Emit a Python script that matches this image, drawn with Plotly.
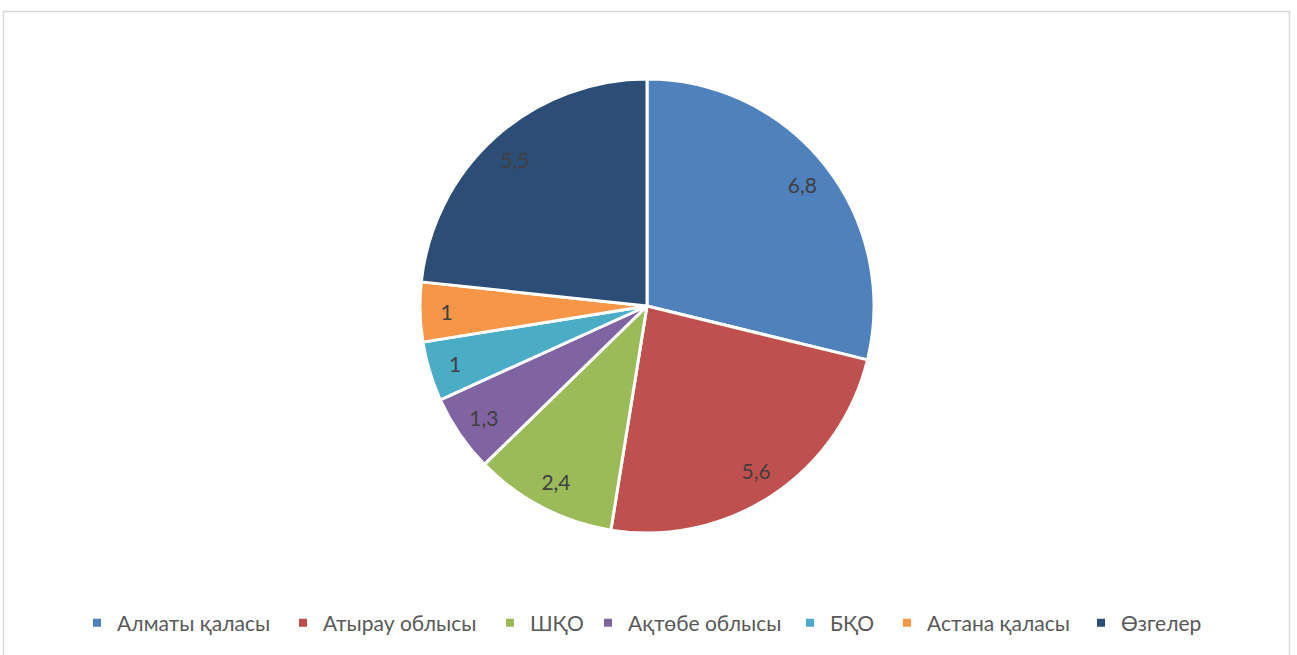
import plotly.graph_objects as go

categories = ["Алматы қаласы", "Атырау облысы", "ШҚО", "Ақтөбе облысы", "БҚО", "Астана қаласы", "Өзгелер"]
values = [6.8, 5.6, 2.4, 1.3, 1, 1, 5.5]
colors = ["#4F81BD", "#C0504D", "#9BBB59", "#8064A2", "#4BACC6", "#F79646", "#2C4D75"]
legend_text_x = [117, 323, 530, 628, 830, 927, 1121]  # pixel x where each legend label starts

W, H = 1297, 655
cx, cy, R = 647, 306, 227
FONT = "Lato, 'Noto Sans', sans-serif"
domain = dict(x=[(cx - R) / W, (cx + R) / W], y=[1 - (cy + R) / H, 1 - (cy - R) / H])

fig = go.Figure()
# main pie (slices)
fig.add_trace(go.Pie(
    labels=categories, values=values, sort=False, direction="clockwise", rotation=0,
    marker=dict(colors=colors, line=dict(color="white", width=3)),
    textinfo="none", domain=domain, showlegend=False, hoverinfo="label+value",
))
# transparent ring overlay to place data labels near the rim
fig.add_trace(go.Pie(
    labels=categories, values=values, sort=False, direction="clockwise", rotation=0,
    hole=0.74,
    marker=dict(colors=["rgba(0,0,0,0)"] * len(values), line=dict(width=0)),
    textinfo="value", textposition="inside", insidetextorientation="horizontal",
    textfont=dict(size=21, color="#404040", family=FONT),
    domain=domain, showlegend=False, hoverinfo="skip",
))

legend_layout = {}
for i, (name, col, tx) in enumerate(zip(categories, colors, legend_text_x)):
    key = "legend" if i == 0 else f"legend{i + 1}"
    fig.add_trace(go.Scatter(
        x=[None], y=[None], mode="markers", name=name,
        marker=dict(symbol="square", size=8, color=col),
        legend=key, showlegend=True, hoverinfo="skip",
    ))
    legend_layout[key] = dict(
        orientation="h", x=(tx - 40) / W, xanchor="left",
        y=1 - 623 / H, yanchor="middle",
        font=dict(size=21, color="#595959", family=FONT),
        bgcolor="rgba(0,0,0,0)", itemwidth=30,
    )

fig.update_layout(
    width=W, height=H,
    margin=dict(l=0, r=0, t=0, b=0),
    paper_bgcolor="white", plot_bgcolor="rgba(0,0,0,0)",
    separators=", ",
    xaxis=dict(visible=False), yaxis=dict(visible=False),
    shapes=[dict(
        type="rect", xref="paper", yref="paper",
        x0=3.5 / W, x1=1289.5 / W, y0=-0.05, y1=1 - 11.5 / H,
        line=dict(color="#D9D9D9", width=1.5), fillcolor="rgba(0,0,0,0)",
    )],
    **legend_layout,
)

fig.write_html(
    "out.html",
    config={"displayModeBar": False},
    post_script="document.body.style.margin='0px';document.body.style.overflow='hidden';",
)
